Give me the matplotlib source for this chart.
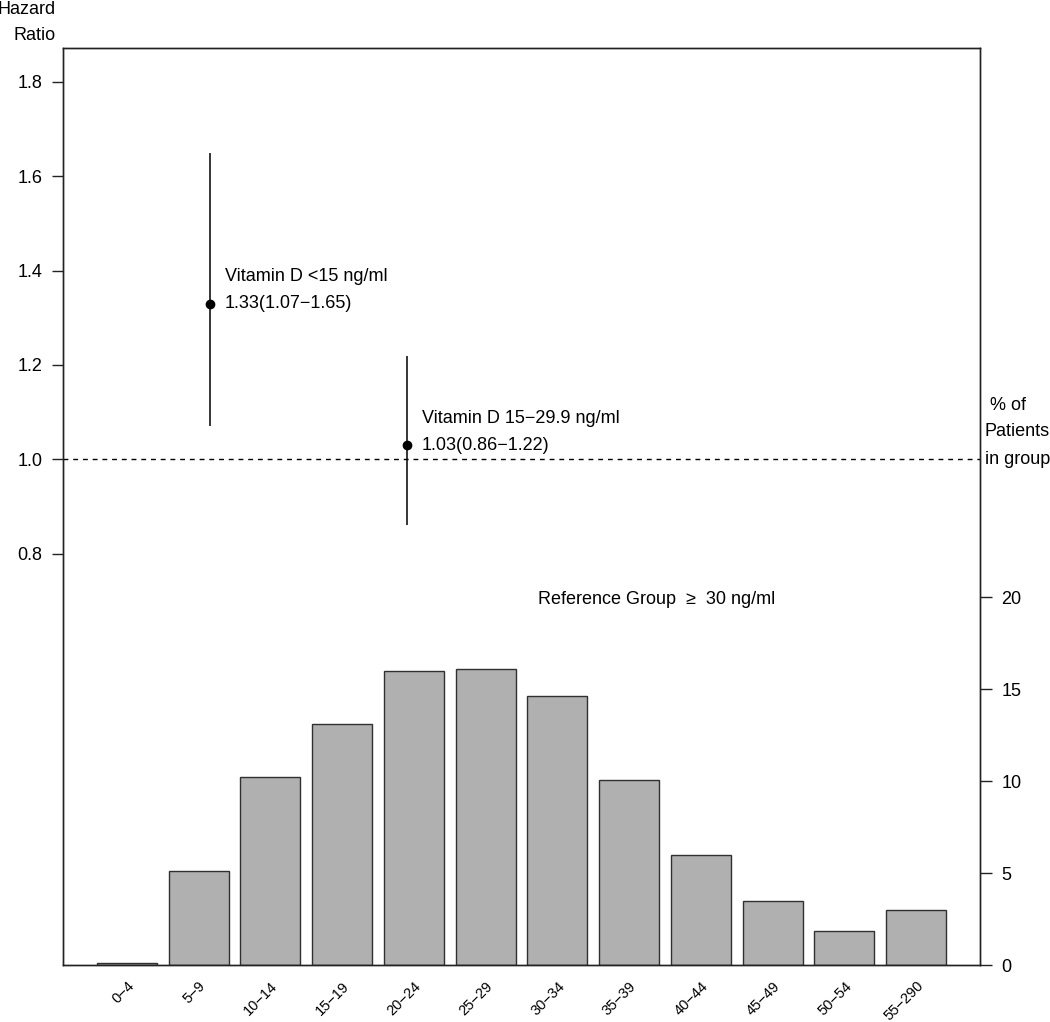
import matplotlib
matplotlib.use("Agg")
import matplotlib.pyplot as plt
from matplotlib.transforms import ScaledTranslation

plt.rcParams['font.family'] = ['Liberation Sans', 'DejaVu Sans']

# ---- data ----
categories = ['0−4', '5−9', '10−14', '15−19', '20−24', '25−29', '30−34',
              '35−39', '40−44', '45−49', '50−54', '55−290']
percent = [0.1, 5.1, 10.2, 13.1, 16.0, 16.1, 14.6, 10.05, 6.0, 3.5, 1.85, 3.0]

hr_x = [2.09, 5.385]          # position on the bar axis
hr = [1.33, 1.03]
hr_lo = [1.07, 0.86]
hr_hi = [1.65, 1.22]
hr_names = ['Vitamin D <15 ng/ml', 'Vitamin D 15−29.9 ng/ml']
hr_text = ['1.33(1.07−1.65)', '1.03(0.86−1.22)']

hr_ticks = [0.8, 1.0, 1.2, 1.4, 1.6, 1.8]
pct_ticks = [0, 5, 10, 15, 20]

W, H = 1050, 1022
fig = plt.figure(figsize=(W / 100, H / 100), dpi=100)
ax = fig.add_axes([63 / W, 1 - 965 / H, (980 - 63) / W, (965 - 48) / H])
ax2 = ax.twinx()

dark = '#222222'
for a in (ax, ax2):
    for s in a.spines.values():
        s.set_color(dark)
        s.set_linewidth(1.0)

# bars (right axis)
centers = [0.7 + 1.2 * i for i in range(len(categories))]
ax2.bar(centers, percent, width=1.0, color='#b0b0b0', edgecolor='#303030',
        linewidth=1.0)
ax2.set_ylim(0, 49.84)
ax2.set_yticks(pct_ticks)
ax2.set_yticklabels([str(t) for t in pct_ticks])
ax2.tick_params(axis='y', direction='out', length=8.5, width=1.0, pad=7,
                labelsize=13, colors=dark, labelcolor='black')

# hazard ratios (left axis)
ax.set_xlim(-0.368, 14.968)
ax.set_ylim(-0.072, 1.872)
ax.set_yticks(hr_ticks)
ax.set_yticklabels([f'{t:.1f}' for t in hr_ticks])
ax.tick_params(axis='y', direction='out', length=8, width=1.0, pad=7,
               labelsize=13, colors=dark, labelcolor='black')
ax.axhline(1.0, color='black', linewidth=1.0, linestyle=(0, (3.5, 3.5)))
ax.vlines(hr_x, hr_lo, hr_hi, color='black', linewidth=1.1)
ax.plot(hr_x, hr, 'o', color='black', markersize=6)

off1 = ScaledTranslation(15 / 100, 0, fig.dpi_scale_trans)
off2 = ScaledTranslation(15 / 100, 27 / 100, fig.dpi_scale_trans)
for x, y, n, t in zip(hr_x, hr, hr_names, hr_text):
    ax.text(x, y, t, ha='left', va='center', fontsize=13,
            transform=ax.transData + off1)
    ax.text(x, y, n, ha='left', va='center', fontsize=13,
            transform=ax.transData + off2)

ax.text(7.576, 0.703, 'Reference Group  ≥  30 ng/ml', ha='left', va='center',
        fontsize=13)

# x labels
ax.set_xticks(centers)
ax.set_xticklabels(categories, rotation=45, ha='right', va='center',
                   rotation_mode='anchor', fontsize=10.5)
ax.tick_params(axis='x', length=0, pad=13.5)
xoff = ScaledTranslation(5 / 100, 0, fig.dpi_scale_trans)
for lbl in ax.get_xticklabels():
    lbl.set_transform(lbl.get_transform() + xoff)

ax.set_zorder(ax2.get_zorder() + 1)
ax.patch.set_visible(False)

# axis titles
fig.text(56 / W, 1 - 9 / H, 'Hazard', ha='right', va='center', fontsize=13)
fig.text(56 / W, 1 - 35 / H, 'Ratio', ha='right', va='center', fontsize=13)
fig.text(985 / W, 1 - 405 / H, ' % of', ha='left', va='center', fontsize=13)
fig.text(985 / W, 1 - 432 / H, 'Patients', ha='left', va='center', fontsize=13)
fig.text(985 / W, 1 - 459 / H, 'in group', ha='left', va='center', fontsize=13)

fig.savefig('out.png', dpi=100, facecolor='white')
